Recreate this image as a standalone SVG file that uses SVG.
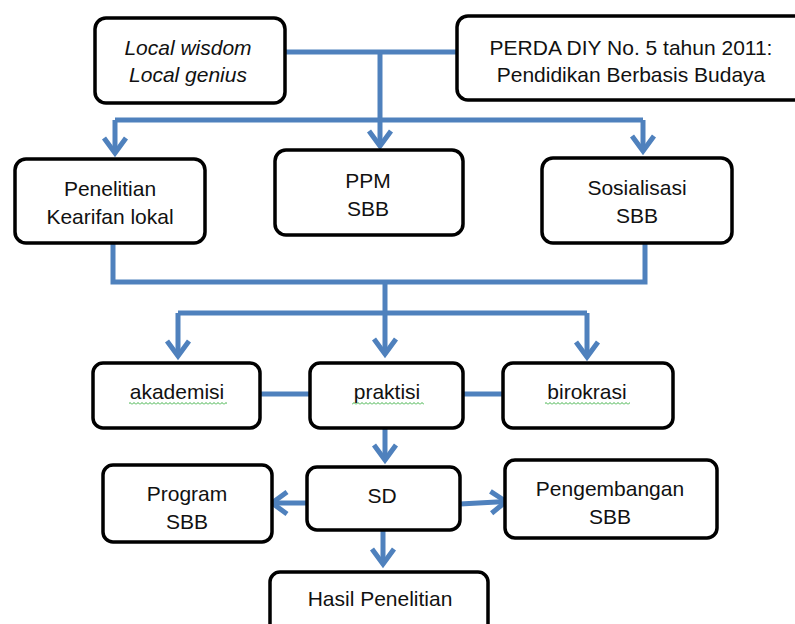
<svg xmlns="http://www.w3.org/2000/svg" width="795" height="624" viewBox="0 0 795 624">
<style>
.box{fill:#fff;stroke:#000;stroke-width:3.5}
.t{font-family:"Liberation Sans",Arial,sans-serif;font-size:21px;fill:#111;text-anchor:middle}
.i{font-style:italic}
.c{fill:none;stroke:#4F81BD;stroke-width:5}
</style>
<defs>
<marker id="arr" markerUnits="userSpaceOnUse" viewBox="-20 -14 26 28" markerWidth="26" markerHeight="28" refX="0" refY="0" orient="auto" overflow="visible">
<path d="M-15,-11 L0,0 L-15,11" fill="none" stroke="#4F81BD" stroke-width="5" stroke-linejoin="miter"/>
</marker>
<pattern id="wavy" width="4" height="3" patternUnits="userSpaceOnUse">
<path d="M0,2.5 L2,0.5 L4,2.5" stroke="#3cb043" fill="none" stroke-width="1"/>
</pattern>
</defs>
<rect width="795" height="624" fill="#fff"/>
<g id="connectors">
<path class="c" d="M285,52 H457"/>
<path class="c" d="M380,52 V146" marker-end="url(#arr)"/>
<path class="c" d="M115,120 H643"/>
<path class="c" d="M115,120 V153" marker-end="url(#arr)"/>
<path class="c" d="M643,120 V151" marker-end="url(#arr)"/>
<path class="c" d="M113,243 V282 H645 V243"/>
<path class="c" d="M385,282 V354" marker-end="url(#arr)"/>
<path class="c" d="M178,313 H587"/>
<path class="c" d="M178,313 V356" marker-end="url(#arr)"/>
<path class="c" d="M587,313 V357" marker-end="url(#arr)"/>
<path class="c" d="M260,394 H310"/>
<path class="c" d="M463,394 H503"/>
<path class="c" d="M385,428 V460" marker-end="url(#arr)"/>
<path class="c" d="M307,503 H272" marker-end="url(#arr)"/>
<path class="c" d="M460,504 L506,501.5" marker-end="url(#arr)"/>
<path class="c" d="M383,530 V564" marker-end="url(#arr)"/>
</g>
<g id="local">
<rect class="box" x="95" y="18" width="190" height="85" rx="11"/>
<text class="t i" x="188" y="55">Local wisdom</text>
<text class="t i" x="188" y="82">Local genius</text>
</g>
<g id="perda">
<rect class="box" x="457" y="16" width="350" height="84" rx="11"/>
<text class="t" x="631" y="55">PERDA DIY No. 5 tahun 2011:</text>
<text class="t" x="631" y="82">Pendidikan Berbasis Budaya</text>
</g>
<g id="penelitian">
<rect class="box" x="15" y="159" width="190" height="84" rx="11"/>
<text class="t" x="110" y="196">Penelitian</text>
<text class="t" x="110" y="224">Kearifan lokal</text>
</g>
<g id="ppm">
<rect class="box" x="275" y="150" width="188" height="85" rx="11"/>
<text class="t" x="368" y="188">PPM</text>
<text class="t" x="368" y="216">SBB</text>
</g>
<g id="sosialisasi">
<rect class="box" x="542" y="158" width="190" height="85" rx="11"/>
<text class="t" x="637" y="195">Sosialisasi</text>
<text class="t" x="637" y="223">SBB</text>
</g>
<g id="akademisi">
<rect class="box" x="93" y="363" width="167" height="65" rx="10"/>
<text class="t" x="177" y="399">akademisi</text>
<rect x="129" y="402" width="98" height="3" fill="url(#wavy)"/>
</g>
<g id="praktisi">
<rect class="box" x="310" y="363" width="153" height="65" rx="10"/>
<text class="t" x="387" y="399">praktisi</text>
<rect x="352" y="402" width="72" height="3" fill="url(#wavy)"/>
</g>
<g id="birokrasi">
<rect class="box" x="503" y="363" width="170" height="65" rx="10"/>
<text class="t" x="587" y="399">birokrasi</text>
<rect x="545" y="402" width="85" height="3" fill="url(#wavy)"/>
</g>
<g id="program">
<rect class="box" x="103" y="465" width="169" height="77" rx="10"/>
<text class="t" x="187" y="501">Program</text>
<text class="t" x="187" y="529">SBB</text>
</g>
<g id="sd">
<rect class="box" x="307" y="467" width="153" height="63" rx="10"/>
<text class="t" x="382" y="503">SD</text>
</g>
<g id="pengembangan">
<rect class="box" x="505" y="460" width="212" height="78" rx="10"/>
<text class="t" x="610" y="496">Pengembangan</text>
<text class="t" x="610" y="524">SBB</text>
</g>
<g id="hasil">
<rect class="box" x="270" y="572" width="218" height="70" rx="10"/>
<text class="t" x="380" y="606">Hasil Penelitian</text>
</g>
</svg>
